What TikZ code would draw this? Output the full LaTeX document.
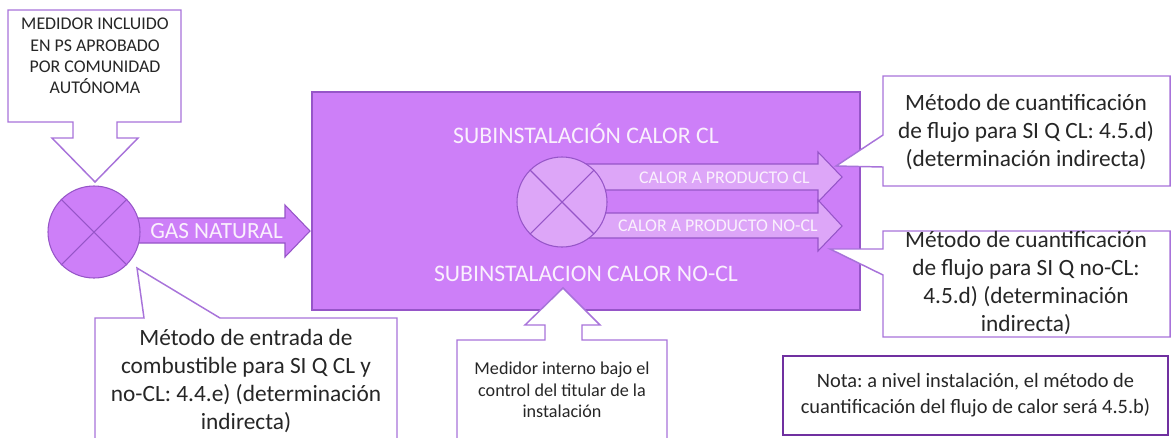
\documentclass[tikz,border=0pt]{standalone}
\usepackage{fontspec}
\setmainfont{Carlito}
\frenchspacing
\definecolor{boxfill}{RGB}{205,127,248}
\definecolor{boxline}{RGB}{150,85,200}
\definecolor{calloutline}{RGB}{168,115,218}
\definecolor{innerfill}{RGB}{221,166,248}
\definecolor{noteline}{RGB}{112,48,160}
\definecolor{txt}{RGB}{38,38,38}
\definecolor{lighttxt}{RGB}{250,240,253}
\begin{document}
\begin{tikzpicture}[x=0.75pt,y=-0.75pt,
  callout/.style={draw=calloutline, line width=1.1pt, fill=white, line join=miter},
  block/.style={draw=boxline, line width=0.8pt, fill=boxfill, line join=miter},
  innerblock/.style={draw=boxline, line width=0.8pt, fill=innerfill, line join=miter},
  bigtxt/.style={text=txt, align=center, font=\fontsize{17.5}{20.8}\selectfont\frenchspacing, inner sep=0pt},
  smalltxt/.style={text=txt, align=center, font=\fontsize{13.6}{16.2}\selectfont\frenchspacing, inner sep=0pt},
  lightlbl/.style={text=lighttxt, inner sep=0pt},
  cross/.style={draw=boxline, line width=0.8pt}
]
\path[use as bounding box, clip] (0,0) rectangle (1173,437);

% top callout
\draw[callout] (8,10) -- (181,10) -- (181,122) -- (117,122) -- (117,138) -- (138,138)
  -- (95,182) -- (52,138) -- (73,138) -- (73,122) -- (8,122) -- cycle;
\node (medtop) [smalltxt, font=\fontsize{13.4}{16}\selectfont] at (95,56) {MEDIDOR INCLUIDO\\EN PS APROBADO\\POR COMUNIDAD\\AUTÓNOMA};

% main installation block
\node (plant) [block, minimum width=411pt, minimum height=163.5pt, inner sep=0pt] at (586,201) {};

% gas natural arrow
\draw[block] (130,218) -- (285,218) -- (285,205) -- (310,231) -- (285,257) -- (285,243) -- (130,243) -- cycle;
\node (gas) [lightlbl, font=\fontsize{17.4}{20}\selectfont, anchor=west] at (150,231) {GAS NATURAL};

% left meter
\node (meterA) [circle, block, minimum size=69pt, inner sep=0pt] at (94,232) {};
\draw[cross] (meterA.45) -- (meterA.225);
\draw[cross] (meterA.135) -- (meterA.315);

% inner arrows
\draw[innerblock] (575,164) -- (818,164) -- (818,152) -- (842,177) -- (818,202) -- (818,190) -- (575,190) -- cycle;
\draw[innerblock] (575,213) -- (818,213) -- (818,200) -- (842,226) -- (818,251) -- (818,238) -- (575,238) -- cycle;
\node (clA) [lightlbl, font=\fontsize{13.4}{16}\selectfont, anchor=east] at (810,178) {CALOR A PRODUCTO CL};
\node (clB) [lightlbl, font=\fontsize{13.4}{16}\selectfont, anchor=east] at (818,226) {CALOR A PRODUCTO NO-CL};

% inner meter
\node (meterB) [circle, innerblock, minimum size=67.5pt, inner sep=0pt] at (562,202) {};
\draw[cross] (meterB.45) -- (meterB.225);
\draw[cross] (meterB.135) -- (meterB.315);

% block labels
\node (subA) [lightlbl, font=\fontsize{17.8}{20}\selectfont] at (586,134) {SUBINSTALACIÓN CALOR CL};
\node (subB) [lightlbl, font=\fontsize{17.8}{20}\selectfont] at (586,274) {SUBINSTALACION CALOR NO-CL};

% right callouts
\draw[callout] (883,76) -- (1170,76) -- (1170,186) -- (883,186) -- (883,167) -- (836,166) -- (883,135) -- cycle;
\node (cuantA) [bigtxt] at (1026,132) {Método de cuantificación\\de flujo para SI Q CL: 4.5.d)\\(determinación indirecta)};
\draw[callout] (883,231) -- (1170,231) -- (1170,337) -- (883,337) -- (883,275) -- (830,249) -- (883,249) -- cycle;
\node (cuantB) [bigtxt] at (1026,283) {Método de cuantificación\\de flujo para SI Q no-CL:\\4.5.d) (determinación\\indirecta)};

% bottom middle callout
\draw[callout] (457,340) -- (545,340) -- (545,325) -- (525,325) -- (563,288) -- (600,325) -- (582,325)
  -- (582,340) -- (667,340) -- (667,450) -- (457,450) -- cycle;
\node (medint) [smalltxt] at (562,390) {Medidor interno bajo el\\control del titular de la\\instalación};

% bottom left callout
\draw[callout] (95,318) -- (144,318) -- (137,268) -- (220,318) -- (397,318) -- (397,450) -- (95,450) -- cycle;
\node (entrada) [bigtxt] at (246,381) {Método de entrada de\\combustible para SI Q CL y\\no-CL: 4.4.e) (determinación\\indirecta)};

% note
\node (nota) [draw=noteline, line width=1.8pt, minimum width=288.75pt, minimum height=59pt,
  text=txt, align=center, font=\fontsize{15.3}{19.5}\selectfont\frenchspacing, inner sep=0pt] at (975.5,395.5)
  {Nota: a nivel instalación, el método de\\cuantificación del flujo de calor será 4.5.b)};
\end{tikzpicture}
\end{document}
